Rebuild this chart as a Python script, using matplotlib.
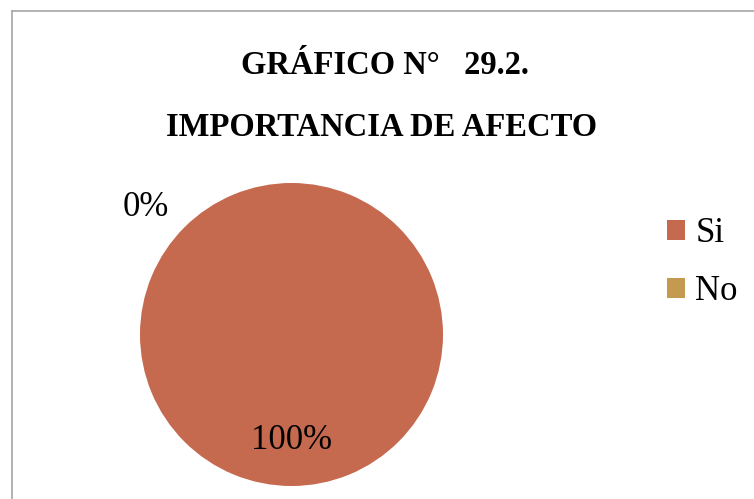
import matplotlib.pyplot as plt

categories = ['Si', 'No']
values = [100, 0]
pct_labels = ['100%', '0%']
colors = ['#C5694F', '#C39A4F']
title1 = 'GRÁFICO N°   29.2.'
title2 = 'IMPORTANCIA DE AFECTO'

plt.rcParams['font.family'] = ['Liberation Serif', 'DejaVu Serif']

W, H = 754, 499
fig = plt.figure(figsize=(W / 100, H / 100), dpi=100)

# chart border (right and bottom edges run off the image)
fig.add_artist(plt.Line2D([12 / W, 12 / W], [0, 1 - 11 / H], color='#A6A6A6', lw=1.2))
fig.add_artist(plt.Line2D([12 / W, 1], [1 - 11 / H, 1 - 11 / H], color='#A6A6A6', lw=1.2))

fig.text(385 / W, 1 - 66 / H, title1, ha='center', va='center', fontsize=23.5, fontweight='bold')
fig.text(382 / W, 1 - 128 / H, title2, ha='center', va='center', fontsize=23.5, fontweight='bold')

ax = fig.add_axes([140 / W, 13 / H, 303 / W, 303 / H])
wedges, _ = ax.pie(values, colors=colors, startangle=90, counterclock=False,
                   radius=1.0, wedgeprops=dict(linewidth=0))
ax.set_xlim(-1, 1)
ax.set_ylim(-1, 1)
ax.set_aspect('equal')

ax.text(0.0, -0.7, pct_labels[0], ha='center', va='center', fontsize=25)
ax.text(-0.96, 0.84, pct_labels[1], ha='center', va='center', fontsize=25)

fig.legend(wedges, categories, loc='center left', bbox_to_anchor=(667 / W, 1 - 263 / H),
           frameon=False, fontsize=25, handlelength=0.52, handleheight=0.52,
           handletextpad=0.3, labelspacing=0.72, borderaxespad=0, borderpad=0)

fig.savefig('out.png', dpi=100)
